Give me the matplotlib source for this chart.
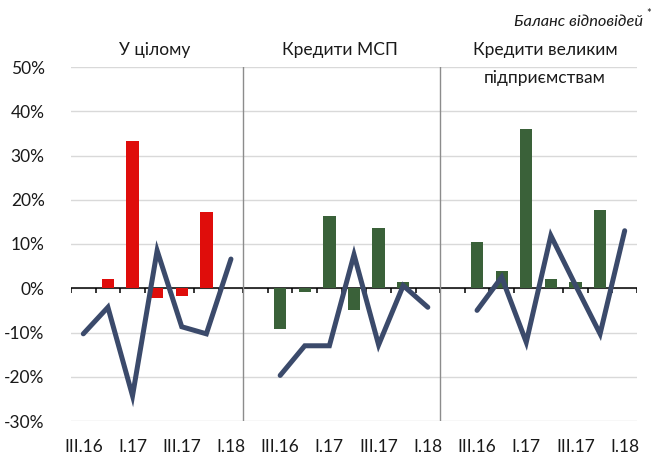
import matplotlib.pyplot as plt
import numpy as np

plt.rcParams['font.family'] = ['Lato', 'DejaVu Sans']

# 23 category slots: three panels, blank slot at the start of panels 2 and 3
quarters = ["III.16", "IV.16", "I.17", "II.17", "III.17", "IV.17", "I.18"]

total_bars = [np.nan, 2.0, 33.3, -2.2, -1.8, 17.3, np.nan]
total_line = [-10.3, -4.3, -24.3, 8.5, -8.7, -10.3, 6.6]

sme_bars = [-9.3, -0.9, 16.4, -5.0, 13.6, 1.5, np.nan]
sme_line = [-19.7, -13.0, -13.0, 7.6, -12.8, 0.6, -4.3]

large_bars = [10.5, 4.0, 35.9, 2.0, 1.3, 17.6, np.nan]
large_line = [-5.0, 2.5, -12.2, 11.9, 0.7, -10.3, 13.0]

panel_titles = [["У цілому"], ["Кредити МСП"], ["Кредити великим", "підприємствам"]]
panel_start = [0, 8, 16]

red = "#DF0D0B"
green = "#3A6139"
navy = "#3B4A6B"

fig = plt.figure(figsize=(6.56, 4.55), dpi=100)
ax = fig.add_axes([71 / 656, 34 / 455, 566 / 656, 354 / 455])

n_slots = 23
series = [(total_bars, total_line, red), (sme_bars, sme_line, green),
          (large_bars, large_line, green)]
for start, (bars, line, col) in zip(panel_start, series):
    x = np.arange(start, start + len(quarters))
    ax.bar(x, bars, width=0.5, color=col, zorder=3)
    ax.plot(x, line, color=navy, lw=3.6, solid_capstyle='round',
            solid_joinstyle='miter', zorder=4)

ax.set_xlim(-0.5, n_slots - 0.5)
ax.set_ylim(-30, 50)
ax.set_yticks(np.arange(-30, 51, 10))
ax.set_yticklabels([f"{v}%" for v in range(-30, 51, 10)])
ax.grid(axis='y', color='#D9D9D9', lw=1, zorder=0)
for s in ax.spines.values():
    s.set_visible(False)
ax.tick_params(axis='y', length=0, pad=19, labelsize=12.5, labelcolor='#1a1a1a')

# x labels: every other quarter in each panel
xt, xl = [], []
for start in panel_start:
    for k in range(0, len(quarters), 2):
        xt.append(start + k)
        xl.append(quarters[k])
ax.set_xticks(xt)
ax.set_xticklabels(xl)
ax.tick_params(axis='x', length=0, pad=13, labelsize=12.5, labelcolor='#1a1a1a')

# zero axis with category boundary ticks
ax.axhline(0, color='black', lw=1.1, zorder=2)
bounds = np.arange(n_slots + 1) - 0.5
ax.vlines(bounds, -1.1, 0, color='black', lw=1.1, zorder=2)

# panel separators
for b in (6.5, 14.5):
    ax.axvline(b, color='#8C8C8C', lw=1, zorder=2)

# panel titles
title_x = [155, 340, 545]
for tx, lines in zip(title_x, panel_titles):
    for i, t in enumerate(lines):
        fig.text(tx / 656, 1 - (50 + 28 * i) / 455, t, ha='center', va='center',
                 fontsize=12.5, color='#1a1a1a')

fig.text(643 / 656, 1 - 22 / 455, "Баланс відповідей", ha='right', va='center',
         fontsize=11.8, style='italic', color='#1a1a1a')
fig.text(646 / 656, 1 - 13 / 455, "*", ha='left', va='center',
         fontsize=8, color='#1a1a1a')

fig.savefig("out.png", dpi=100)
